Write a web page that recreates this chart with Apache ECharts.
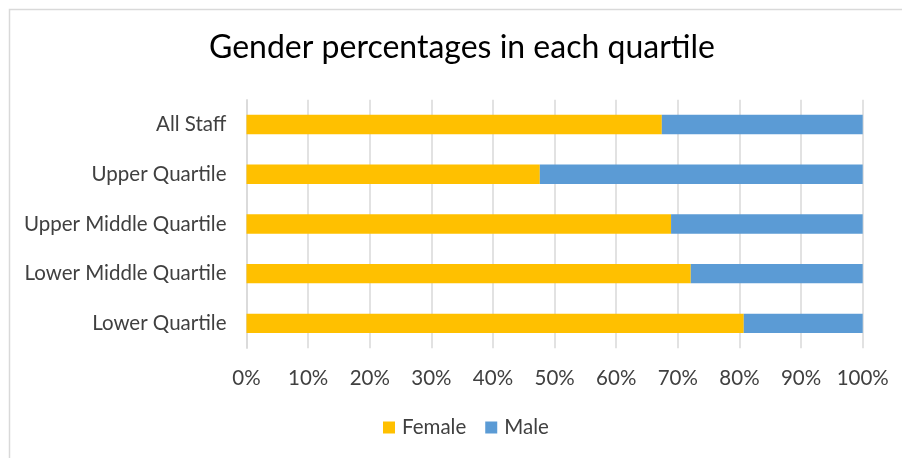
<!DOCTYPE html>
<html>
<head>
<meta charset="utf-8">
<script src="https://cdn.jsdelivr.net/npm/echarts@6/dist/echarts.min.js"></script>
<style>
html,body{margin:0;padding:0;background:#fff;}
#chart{width:902px;height:458px;}
</style>
</head>
<body>
<div id="chart"></div>
<script>
const categories = ['All Staff', 'Upper Quartile', 'Upper Middle Quartile', 'Lower Middle Quartile', 'Lower Quartile'];
const female = [67.4, 47.6, 68.9, 72.1, 80.7];
const male = [32.6, 52.4, 31.1, 27.9, 19.3];
const titleText = 'Gender percentages in each quartile';

const FONT = 'Lato';
const chart = echarts.init(document.getElementById('chart'), null, {renderer: 'canvas'});
chart.setOption({
  animation: false,
  backgroundColor: '#ffffff',
  graphic: [{
    type: 'rect', left: 7, top: 7, shape: {x: 0, y: 0, width: 1000, height: 1000},
    style: {fill: 'none', stroke: '#d9d9d9', lineWidth: 1.5}, silent: true, z: -1
  }],
  title: {
    text: titleText, left: 204, top: 27,
    textStyle: {fontFamily: FONT, fontSize: 32, fontWeight: 'normal', color: '#000000'}
  },
  legend: {
    data: ['Female', 'Male'], top: 412, left: 378, icon: 'rect',
    itemWidth: 12, itemHeight: 12, itemGap: 19,
    textStyle: {fontFamily: FONT, fontSize: 20.5, color: '#404040', padding: [0, 0, 0, 2]}
  },
  grid: {left: 246.5, right: 39.3, top: 99.7, height: 248.5, containLabel: false},
  xAxis: {
    type: 'value', min: 0, max: 100, interval: 10,
    axisLine: {show: false}, axisTick: {show: false},
    axisLabel: {formatter: '{value}%', fontFamily: FONT, fontSize: 20.5, color: '#404040', margin: 20},
    splitLine: {lineStyle: {color: '#d9d9d9', width: 1.5}}
  },
  yAxis: {
    type: 'category', data: categories, inverse: true,
    axisLine: {show: true, lineStyle: {color: '#d9d9d9', width: 1.5}},
    axisTick: {show: false},
    axisLabel: {fontFamily: FONT, fontSize: 20.5, color: '#404040', margin: 20}
  },
  series: [
    {name: 'Female', type: 'bar', stack: 'g', data: female, barWidth: '39%', itemStyle: {color: '#FFC000'}},
    {name: 'Male', type: 'bar', stack: 'g', data: male, barWidth: '39%', itemStyle: {color: '#5B9BD5'}}
  ]
});
</script>
</body>
</html>
